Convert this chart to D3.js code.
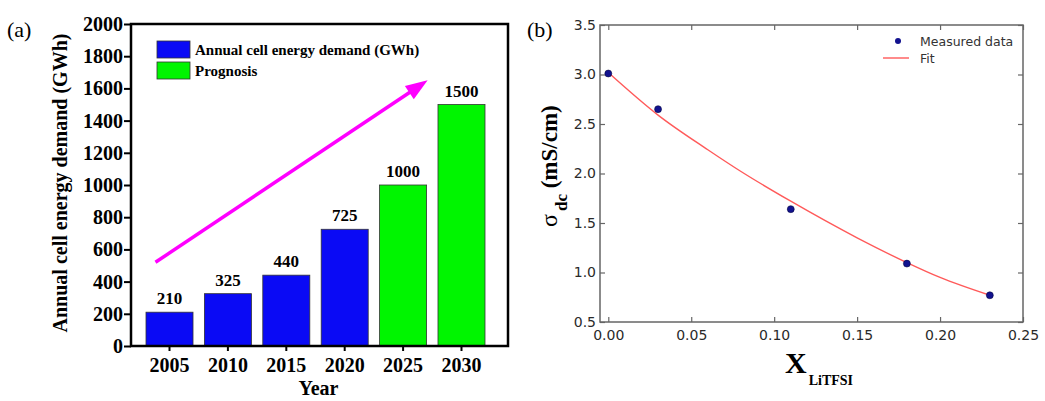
<!DOCTYPE html>
<html><head><meta charset="utf-8">
<script src="https://cdn.jsdelivr.net/npm/d3@7"></script>
<style>body{margin:0;background:#fff}</style>
</head><body>
<svg id="c" width="1045" height="401"></svg>
<script>
// ---- Panel (a) data ----
const years = ["2005","2010","2015","2020","2025","2030"];
const demand = [210, 325, 440, 725, 1000, 1500];
const isPrognosis = [false, false, false, false, true, true];
const yTicksA = [0,200,400,600,800,1000,1200,1400,1600,1800,2000];
const legendA = ["Annual cell energy demand (GWh)", "Prognosis"];
const arrowYears = [2003.8, 2027.1];
const arrowValues = [520, 1650];

// ---- Panel (b) data ----
const xMeasured = [0.0, 0.03, 0.11, 0.18, 0.23];
const yMeasured = [3.01, 2.65, 1.64, 1.09, 0.77];
const xFit = [0.0, 0.03, 0.06, 0.08, 0.11, 0.15, 0.18, 0.20, 0.23];
const yFit = [3.02, 2.59, 2.24, 2.02, 1.72, 1.35, 1.10, 0.95, 0.77];
const xTicksB = [0.00, 0.05, 0.10, 0.15, 0.20, 0.25];
const yTicksB = [0.5, 1.0, 1.5, 2.0, 2.5, 3.0, 3.5];
const legendB = ["Measured data", "Fit"];

const svg = d3.select("#c");
const SERIF = "'Liberation Serif','Times New Roman',serif";
const SANS = "'DejaVu Sans',sans-serif";

// ================= Panel (a) =================
const A = {l:131, r:508, t:24, b:346};
const yA = d3.scaleLinear().domain([0,2000]).range([A.b, A.t]);
const xA = d3.scaleBand().domain(years).range([146, 485]).paddingInner(0.195).paddingOuter(0);
const bw = xA.bandwidth();
const xYear = d3.scaleLinear().domain([2005, 2030]).range([xA("2005")+bw/2, xA("2030")+bw/2]);
const gA = svg.append("g");

const blue = "#0a0af5", green = "#00f500";

gA.selectAll("rect.bar").data(years).join("rect").attr("class","bar")
  .attr("x", d => xA(d)).attr("width", bw)
  .attr("y", (d,i) => yA(demand[i])).attr("height", (d,i) => yA(0) - yA(demand[i]))
  .attr("fill", (d,i) => isPrognosis[i] ? green : blue)
  .attr("stroke", "#333").attr("stroke-width", 0.8);

gA.selectAll("text.val").data(years).join("text").attr("class","val")
  .attr("x", d => xA(d) + bw/2).attr("y", (d,i) => yA(demand[i]) - 8)
  .attr("text-anchor","middle").attr("font-family", SERIF).attr("font-weight","bold")
  .attr("font-size", 17).text((d,i) => demand[i]);

// arrow
{
  const p0 = [xYear(arrowYears[0]), yA(arrowValues[0])];
  const p1 = [xYear(arrowYears[1]), yA(arrowValues[1])];
  const dx = p1[0]-p0[0], dy = p1[1]-p0[1], L = Math.hypot(dx,dy);
  const ux = dx/L, uy = dy/L, hl = 22, hw = 8;
  const base = [p1[0]-ux*hl, p1[1]-uy*hl];
  gA.append("line").attr("x1",p0[0]).attr("y1",p0[1]).attr("x2",base[0]+ux*2).attr("y2",base[1]+uy*2)
    .attr("stroke","#ff00ff").attr("stroke-width",3.5);
  gA.append("polygon").attr("points", [
    p1, [base[0]-uy*hw, base[1]+ux*hw], [base[0]+uy*hw, base[1]-ux*hw]
  ].map(p => p.join(",")).join(" ")).attr("fill","#ff00ff");
}

// frame
gA.append("rect").attr("x",A.l).attr("y",A.t).attr("width",A.r-A.l).attr("height",A.b-A.t)
  .attr("fill","none").attr("stroke","#000").attr("stroke-width",2.5);

// axes
const axYA = gA.append("g").attr("transform",`translate(${A.l},0)`)
  .call(d3.axisLeft(yA).tickValues(yTicksA).tickSize(7).tickPadding(1).tickFormat(d3.format("d")));
const axXA = gA.append("g").attr("transform",`translate(0,${A.b})`)
  .call(d3.axisBottom(xA).tickSize(5).tickPadding(7));
[axYA, axXA].forEach(g => {
  g.select(".domain").remove();
  g.selectAll(".tick line").attr("stroke","#000").attr("stroke-width",2);
  g.selectAll("text").attr("font-family",SERIF).attr("font-weight","bold").attr("font-size",20).attr("fill","#000");
});

gA.append("text").attr("transform","translate(67,183) rotate(-90)").attr("text-anchor","middle")
  .attr("font-family",SERIF).attr("font-weight","bold").attr("font-size",20)
  .text("Annual cell energy demand (GWh)");
gA.append("text").attr("x",(A.l+A.r)/2 - 1).attr("y",395).attr("text-anchor","middle")
  .attr("font-family",SERIF).attr("font-weight","bold").attr("font-size",20).text("Year");
gA.append("text").attr("x",7).attr("y",37).attr("font-family",SERIF).attr("font-size",22).text("(a)");

// legend (a)
const legA = gA.selectAll("g.leg").data(legendA).join("g").attr("class","leg")
  .attr("transform",(d,i)=>`translate(157,${41+i*21})`);
legA.append("rect").attr("width",33).attr("height",17)
  .attr("fill",(d,i)=> i===0 ? blue : green).attr("stroke","#333").attr("stroke-width",0.8);
legA.append("text").attr("x",38).attr("y",14).attr("font-family",SERIF).attr("font-weight","bold")
  .attr("font-size",15).text(d=>d);

// ================= Panel (b) =================
const B = {l:600, r:1023, t:25, b:322};
const xB = d3.scaleLinear().domain([-0.005, 0.25]).range([B.l, B.r]);
const yB = d3.scaleLinear().domain([0.5, 3.5]).range([B.b, B.t]);
const gB = svg.append("g");
const frameC = "#666";

const axB = [
  gB.append("g").attr("transform",`translate(0,${B.b})`)
    .call(d3.axisBottom(xB).tickValues(xTicksB).tickSizeInner(-5).tickSizeOuter(0).tickPadding(8).tickFormat(d3.format(".2f"))),
  gB.append("g").attr("transform",`translate(0,${B.t})`)
    .call(d3.axisTop(xB).tickValues(xTicksB).tickSizeInner(-5).tickSizeOuter(0).tickFormat("")),
  gB.append("g").attr("transform",`translate(${B.l},0)`)
    .call(d3.axisLeft(yB).tickValues(yTicksB).tickSizeInner(-5).tickSizeOuter(0).tickPadding(4).tickFormat(d3.format(".1f"))),
  gB.append("g").attr("transform",`translate(${B.r},0)`)
    .call(d3.axisRight(yB).tickValues(yTicksB).tickSizeInner(-5).tickSizeOuter(0).tickFormat(""))
];
axB.forEach(g => {
  g.select(".domain").remove();
  g.selectAll(".tick line").attr("stroke",frameC).attr("stroke-width",1.2);
  g.selectAll("text").attr("font-family",SANS).attr("font-size",14).attr("fill","#2a2a2a");
});

gB.append("rect").attr("x",B.l).attr("y",B.t).attr("width",B.r-B.l).attr("height",B.b-B.t)
  .attr("fill","none").attr("stroke",frameC).attr("stroke-width",1.5);

const fitPts = xFit.map((x,i)=>[x, yFit[i]]);
gB.append("path").datum(fitPts)
  .attr("d", d3.line().x(d=>xB(d[0])).y(d=>yB(d[1])).curve(d3.curveMonotoneX))
  .attr("fill","none").attr("stroke","#ff5a5a").attr("stroke-width",1.4);

gB.selectAll("circle.pt").data(xMeasured).join("circle").attr("class","pt")
  .attr("cx", d => xB(d)).attr("cy", (d,i) => yB(yMeasured[i])).attr("r",3.5)
  .attr("fill","#12128f").attr("stroke","#000033").attr("stroke-width",0.5);

// legend (b)
gB.append("circle").attr("cx",898).attr("cy",41).attr("r",3).attr("fill","#12128f");
gB.append("line").attr("x1",883).attr("x2",909).attr("y1",58).attr("y2",58).attr("stroke","#ff5a5a").attr("stroke-width",1.4);
gB.selectAll("text.lb").data(legendB).join("text").attr("class","lb")
  .attr("x",920).attr("y",(d,i)=>45.5+i*17).attr("font-family",SANS).attr("font-size",12.5).attr("fill","#333").text(d=>d);

// axis titles (b)
const yt = gB.append("text").attr("transform","translate(557,227) rotate(-90)")
  .attr("font-family",SERIF).attr("fill","#000");
yt.append("tspan").attr("font-size",24).text("σ");
yt.append("tspan").attr("font-size",17).attr("font-weight","bold").attr("dx",3).attr("dy",10).text("dc");
yt.append("tspan").attr("font-size",23).attr("font-weight","bold").attr("dy",-10).text(" (mS/cm)");

const xt = gB.append("text").attr("x",785).attr("y",373).attr("font-family",SERIF).attr("font-weight","bold").attr("fill","#000");
xt.append("tspan").attr("font-size",30).text("X");
xt.append("tspan").attr("font-size",14).attr("dx",2).attr("dy",12).text("LiTFSI");

gB.append("text").attr("x",527).attr("y",37).attr("font-family",SERIF).attr("font-size",22).text("(b)");
</script>
</body></html>
